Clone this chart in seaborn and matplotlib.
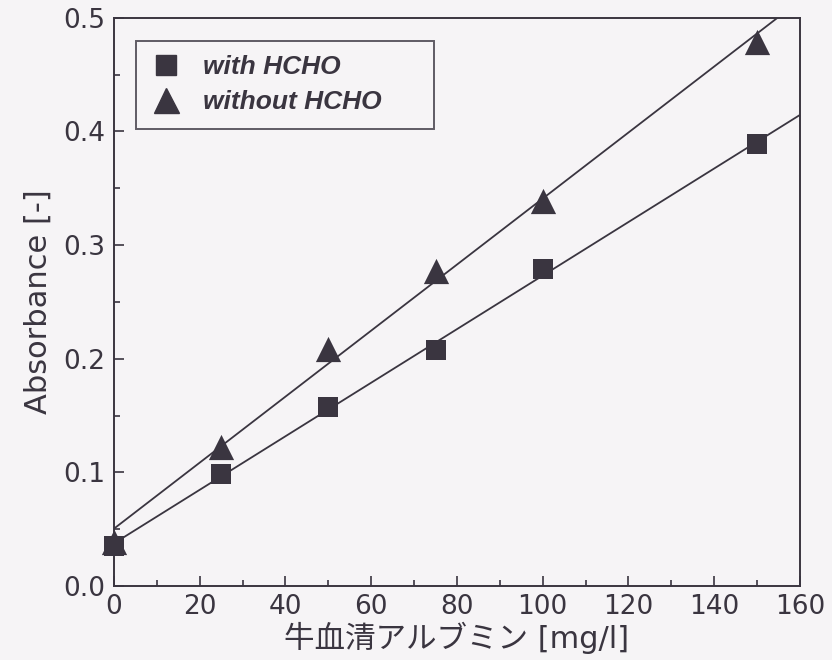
import numpy as np
import pandas as pd
import matplotlib
matplotlib.use("Agg")
import matplotlib.pyplot as plt
import seaborn as sns
from matplotlib.ticker import MultipleLocator, FormatStrFormatter
from matplotlib.lines import Line2D

# data
bsa_conc = [0, 25, 50, 75, 100, 150]
abs_with_hcho = [0.035, 0.099, 0.158, 0.208, 0.279, 0.389]
abs_without_hcho = [0.039, 0.122, 0.209, 0.277, 0.339, 0.479]
series_names = ["with HCHO", "without HCHO"]
x_label = "牛血清アルブミン [mg/l]"
y_label = "Absorbance [-]"

df_with = pd.DataFrame({"x": bsa_conc, "y": abs_with_hcho})
df_without = pd.DataFrame({"x": bsa_conc, "y": abs_without_hcho})

sns.set_style("ticks")
plt.rcParams["font.family"] = ["DejaVu Sans", "Noto Sans CJK JP"]

ink = "#3a3540"
bg = "#f6f4f6"

fig = plt.figure(figsize=(8.32, 6.6), dpi=100, facecolor=bg)
ax = fig.add_axes([0.137, 0.112, 0.8245, 0.861])
ax.set_facecolor(bg)
ax.set_xlim(0, 160)
ax.set_ylim(0, 0.5)

sns.regplot(data=df_with, x="x", y="y", ax=ax, ci=None, truncate=False,
            marker="s", color=ink,
            scatter_kws={"s": 200, "linewidths": 0, "alpha": 1, "zorder": 3, "clip_on": False},
            line_kws={"lw": 1.3, "zorder": 2})
sns.regplot(data=df_without, x="x", y="y", ax=ax, ci=None, truncate=False,
            marker="^", color=ink,
            scatter_kws={"s": 330, "linewidths": 0, "alpha": 1, "zorder": 3, "clip_on": False},
            line_kws={"lw": 1.3, "zorder": 2})

ax.set_xlim(0, 160)
ax.set_ylim(0, 0.5)

ax.xaxis.set_major_locator(MultipleLocator(20))
ax.xaxis.set_minor_locator(MultipleLocator(10))
ax.yaxis.set_major_locator(MultipleLocator(0.1))
ax.yaxis.set_minor_locator(MultipleLocator(0.05))
ax.tick_params(which="both", direction="in", colors=ink, labelcolor=ink,
               top=False, right=False, width=1.2)
ax.tick_params(which="major", length=7, labelsize=19, pad=6)
ax.tick_params(which="minor", length=4)
ax.yaxis.set_major_formatter(FormatStrFormatter("%.1f"))
for s in ax.spines.values():
    s.set_color(ink)
    s.set_linewidth(1.4)

ax.set_xlabel(x_label, fontsize=22, color=ink, labelpad=1)
ax.set_ylabel(y_label, fontsize=22, color=ink, labelpad=8)

handles = [
    Line2D([], [], marker="s", color=ink, ls="none", markersize=14),
    Line2D([], [], marker="^", color=ink, ls="none", markersize=18),
]
leg = ax.legend(handles, series_names, loc="upper left",
                bbox_to_anchor=(0.032, 0.9595 - 0.146, 0.434, 0.146), mode="expand",
                borderaxespad=0,
                frameon=True, fancybox=False, edgecolor=ink, facecolor=bg,
                handletextpad=0.8, borderpad=0.55, labelspacing=0.42,
                handlelength=1.2,
                prop={"family": "Liberation Sans", "size": 19,
                      "style": "italic", "weight": "bold"})
leg.get_frame().set_linewidth(1.4)
for t in leg.get_texts():
    t.set_color(ink)

fig.savefig("out.png", dpi=100, facecolor=bg)
